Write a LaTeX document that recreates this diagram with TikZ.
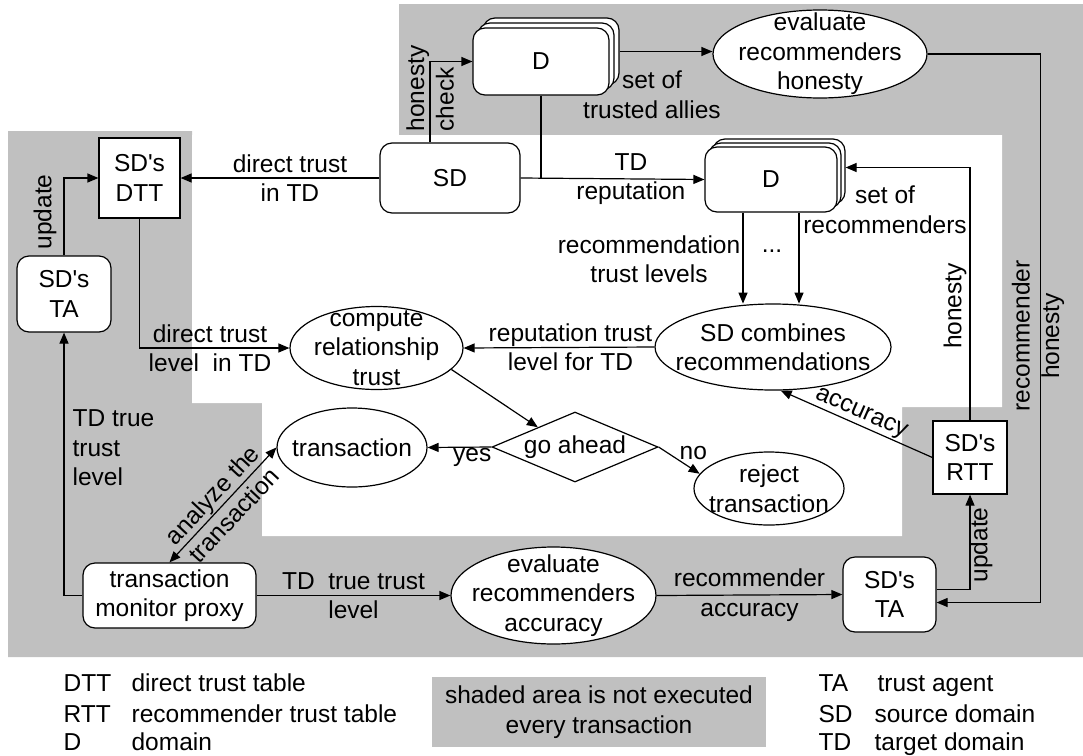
\documentclass[tikz,border=0pt]{standalone}
\usepackage{fontspec}
\setmainfont{Liberation Sans}
\usetikzlibrary{arrows.meta, shapes.geometric, shadows}
\definecolor{shadegray}{RGB}{192,192,192}
\newcommand{\sds}{SD\textquotesingle s}

\begin{document}
\begin{tikzpicture}[x=1pt, y=-1pt, line width=1.2pt,
    font=\fontsize{24.5}{29.5}\selectfont,
    >={Triangle[length=11pt, width=9pt]},
    every node/.style={align=center, inner sep=1pt},
    roundbox/.style={draw, fill=white, rounded corners=12pt, inner sep=0pt},
    tablebox/.style={draw, fill=white, inner sep=0pt},
    ellbox/.style={ellipse, draw, fill=white, inner xsep=-20pt, inner ysep=-15pt},
    stackbox/.style 2 args={roundbox,
        copy shadow={shadow xshift=#1, shadow yshift=#1},
        copy shadow={shadow xshift=#2, shadow yshift=#2}}]
    \useasboundingbox (0,0) rectangle (1083,755);
    % Shaded area
    \fill[shadegray] (8,131) -- (192,131) -- (192,135) -- (399,135) -- (399,4)
        -- (1083,4) -- (1083,657) -- (8,657) -- cycle;
    \fill[white] (192,135) -- (1002,135) -- (1002,407) -- (902,407) -- (902,536)
        -- (262,536) -- (262,403) -- (192,403) -- cycle;
    % Boxes
    \node[stackbox={10pt}{5pt}, minimum width=136pt, minimum height=67pt] (dtop) at (541,61.5) {D};
    \node[ellbox, minimum width=214pt, minimum height=88pt] (evalh) at (820,54) {evaluate\\recommenders\\honesty};
    \node[roundbox, minimum width=140pt, minimum height=70pt] (sd) at (450,178) {SD};
    \node[tablebox, minimum width=81pt, minimum height=80pt] (dtt) at (139.5,178) {\sds\\DTT};
    \node[stackbox={8pt}{4pt}, minimum width=132pt, minimum height=65pt] (dsec) at (771,179.5) {D};
    \node[roundbox, minimum width=94pt, minimum height=76pt] (tal) at (64,294) {\sds\\TA};
    \node[ellbox, minimum width=173pt, minimum height=83pt] (comp) at (376.5,348) {compute\\relationship\\trust};
    \node[ellbox, minimum width=236pt, minimum height=86pt] (comb) at (773,347) {SD combines\\recommendations};
    \node[ellbox, minimum width=150pt, minimum height=79pt] (trans) at (352,447.5) {transaction};
    \node[diamond, draw, fill=white, inner sep=0pt, aspect=2.37, minimum width=166pt, minimum height=70pt] (ga) at (575,447) {go ahead};
    \node[ellbox, minimum width=150pt, minimum height=73pt] (rej) at (769,488.5) {reject\\transaction};
    \node[tablebox, minimum width=74pt, minimum height=73pt] (rtt) at (970,457.5) {\sds\\RTT};
    \node[roundbox, minimum width=173pt, minimum height=65pt] (proxy) at (169.5,595.5) {transaction\\monitor proxy};
    \node[ellbox, minimum width=205pt, minimum height=97pt] (evala) at (553.5,595.5) {evaluate\\recommenders\\accuracy};
    \node[roundbox, minimum width=93pt, minimum height=75pt] (tar) at (889.5,594.5) {\sds\\TA};
    % Top part
    \draw[->] ([xshift=-20pt]sd.north) |- (dtop.west);
    \coordinate (dtopr) at ([shift={(10pt,10pt)}]dtop.east);
    \draw[->] (dtopr) -- (dtopr -| evalh.west);
    \draw[->] (evalh.east) -- ++(113,0) |- ([yshift=-8pt]tar.east);
    \draw[->] (sd.west) -- node[pos=0.45] (lbldt) {direct trust\\in TD} (dtt.east);
    \draw[->] (sd.east) -- node[pos=0.6] (lbltd) {TD\\reputation} (dsec.west);
    \draw (dtop.south) -- (dtop.south |- sd.east);
    \coordinate (recin) at ([shift={(8pt,12pt)}]dsec.east);
    \draw[->] (rtt.north) |- (recin);
    \draw[->] ([xshift=-28pt]dsec.south) -- ++(0,91);
    \draw[->] ([xshift=28pt]dsec.south) -- ++(0,91);
    % Middle part
    \draw[->] (comb.west) -- node[pos=0.44] (lblrep) {reputation trust\\level for TD} (comp.east);
    \draw[->] (dtt.south) |- (comp.west);
    \draw[->] (comp.-16) -- (ga.152);
    \draw[->] (ga.west) -- node[below, pos=0.3] (lblyes) {yes} (trans.east);
    \draw[->] (ga.east) -- node[above right, pos=0.5, inner sep=0pt] (lblno) {no} (rej.168);
    \draw[->] (rtt.west) -- node[sloped, above] (lblacc) {accuracy} (comb.-80);
    % Bottom part
    \draw[<->] (proxy.north) -- node[sloped] (lblan) {analyze the\\transaction} (trans.west);
    \draw[->] (proxy.west) -| (tal.south);
    \draw[->] (tal.north) |- (dtt.west);
    \draw[->] (proxy.east) -- node (lbltt) {TD~ true trust\\level} (evala.west);
    \draw[->] (evala.east) -- node (lblra) {recommender\\accuracy} (tar.west);
    \draw[->] ([yshift=5pt]tar.east) -| (rtt.south);
    % Free labels
    \node[rotate=90, align=left, anchor=west] (lblhc) at (430,133) {honesty\\check};
    \node (lblsta) at (652,95) {set of\\trusted allies};
    \node (lblrtl) at (649,259) {recommendation\\trust levels};
    \node (lbldots) at (772,251) {...};
    \node (lblsor) at (885,210) {set of\\recommenders};
    \node[rotate=90] (lblhon) at (955,306) {honesty};
    \node[rotate=90] (lblrh) at (1038,336) {recommender\\honesty};
    \node (lbldtl) at (210,348) {direct trust\\level~ in TD};
    \node[align=left, anchor=west] (lbltrue) at (71,448) {TD true\\trust\\level};
    \node[rotate=90] (lblupl) at (45,212) {update};
    \node[rotate=90] (lblupr) at (981,545) {update};
    % Legend
    \node[anchor=base west] (kdtt) at (62,691) {DTT};
    \node[anchor=base west] (vdtt) at (130,691) {direct trust table};
    \node[anchor=base west] (krtt) at (62,722) {RTT};
    \node[anchor=base west] (vrtt) at (130,722) {recommender trust table};
    \node[anchor=base west] (kd) at (62,750) {D};
    \node[anchor=base west] (vd) at (130,750) {domain};
    \node[fill=shadegray, minimum width=334pt, minimum height=70pt] (note) at (599,712) {shaded area is not executed\\every transaction};
    \node[anchor=base west] (kta) at (817,691) {TA};
    \node[anchor=base west] (vta) at (876,691) {trust agent};
    \node[anchor=base west] (ksd) at (817,722) {SD};
    \node[anchor=base west] (vsd) at (873,722) {source domain};
    \node[anchor=base west] (ktd) at (817,750) {TD};
    \node[anchor=base west] (vtd) at (873,750) {target domain};
\end{tikzpicture}
\end{document}
